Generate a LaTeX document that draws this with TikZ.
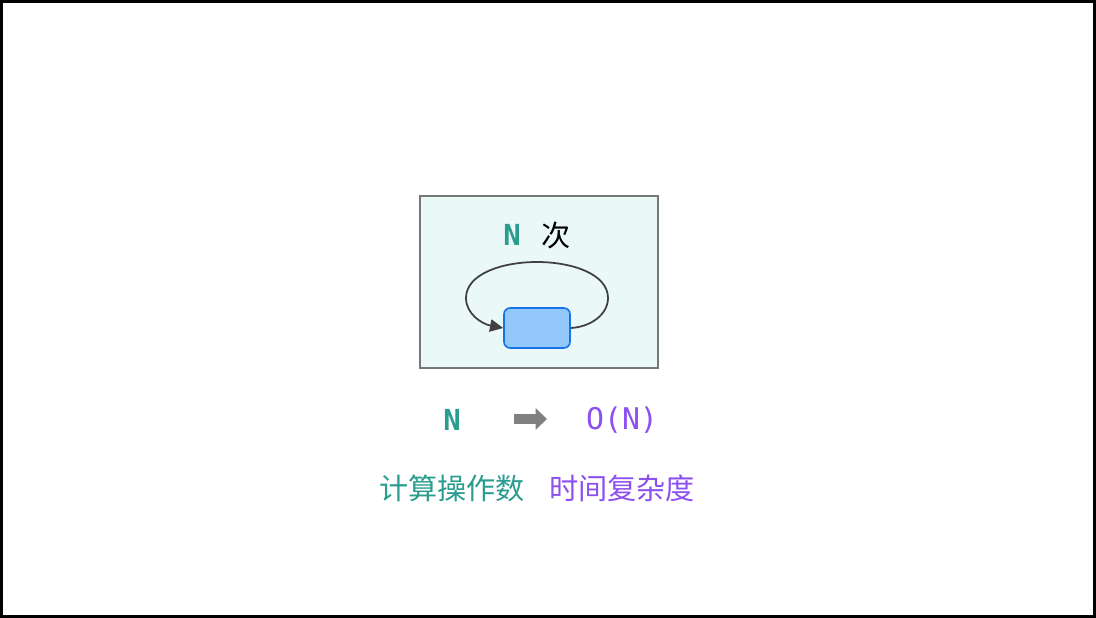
\documentclass[tikz,border=0pt]{standalone}
\usepackage{fontspec}
\setmonofont{DejaVu Sans Mono}
\newfontfamily\cjk{Noto Sans CJK SC}
\usetikzlibrary{arrows.meta,positioning}
\definecolor{opteal}{RGB}{42,157,143}
\definecolor{cxpurple}{RGB}{140,80,240}
\definecolor{loopbg}{RGB}{234,248,247}
\definecolor{blockfill}{RGB}{148,200,252}
\definecolor{blockdraw}{RGB}{20,115,230}
\tikzset{
  px/.style={x=0.02cm,y=-0.02cm},
  countlbl/.style={font=\fontsize{16.5}{18}\selectfont\ttfamily\bfseries,text=opteal,inner sep=0pt},
  cplxlbl/.style={font=\fontsize{17}{18}\selectfont\ttfamily,text=cxpurple,inner sep=0pt},
  cjklbl/.style={font=\fontsize{16.6}{18}\selectfont\cjk,inner sep=0pt},
}
\begin{document}
\begin{tikzpicture}[px]
    \useasboundingbox (0,0) rectangle (1096,618);
    \draw[line width=1.7pt] (1.5,1.5) rectangle (1094.5,616.5);

    \node[draw={rgb,255:red,119;green,119;blue,119},line width=1.1pt,fill=loopbg,
          minimum width=238*0.02cm,minimum height=172*0.02cm,inner sep=0pt] (frame) at (539,282) {};
    \node[countlbl] (n1) at (512,235) {N};
    \node[cjklbl,right=20*0.02cm of n1] (ci) {次};

    \node[draw=blockdraw,fill=blockfill,line width=0.9pt,rounded corners=3.5pt,
          minimum width=66*0.02cm,minimum height=40*0.02cm,inner sep=0pt] (block) at (537,328) {};
    \draw[line width=1pt,draw={rgb,255:red,64;green,64;blue,64},
          -{Triangle[length=7.5pt,width=7pt]}]
      (block.east) .. controls (590,327) and (608,315) .. (608,298)
      .. controls (608,274) and (572,262) .. (537,262)
      .. controls (502,262) and (466,274) .. (466,298)
      .. controls (466,314) and (482,324) .. (block.west);

    \node[countlbl] (n2) at (452,420) {N};
    \node[cplxlbl] (on) at (622,420) {O(N)};
    \coordinate (a1) at (514,419);
    \coordinate (a2) at (547,419);
    \draw[gray,line width=5.7pt,-{Triangle[length=6.5pt,width=12pt]}] (a1) -- (a2);

    \node[cjklbl,text=opteal] (ops) at (452,488) {计算操作数};
    \node[cjklbl,text=cxpurple] (tc) at (622,488) {时间复杂度};
  \end{tikzpicture}
\end{document}
